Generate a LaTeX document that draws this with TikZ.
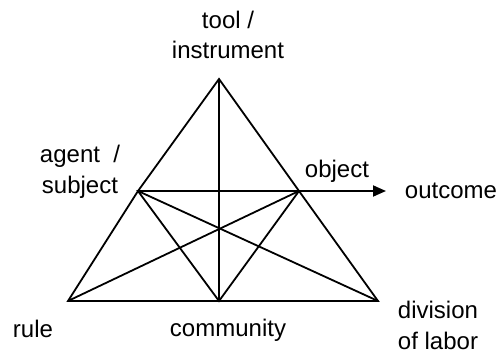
\documentclass[tikz,border=0pt]{standalone}
\usepackage{fontspec}
\setmainfont{Liberation Sans}
\usetikzlibrary{arrows.meta}

\begin{document}
\begin{tikzpicture}[x=1pt,y=-1pt,>={Triangle[length=13pt,width=11pt]},
   every node/.style={font=\fontsize{24}{30.5}\selectfont,inner sep=0pt},
   edge/.style={line width=1.8pt},
   lbl/.style={anchor=base,align=center}]
  \useasboundingbox (0,0) rectangle (501,353);
  % corners and side midpoints
  \coordinate (apex) at (219,79);
  \coordinate (lc) at (68,301);
  \coordinate (rc) at (378,301);
  \coordinate (lm) at (138,191);
  \coordinate (rm) at (299,191);
  \coordinate (bm) at (219,301);
  \coordinate (tip) at (386,191);
  \draw[edge] (apex) -- (lm) -- (lc) -- (bm) -- (rc) -- (rm) -- cycle;
  \draw[edge] (lm) -- (rm) -- (bm) -- cycle;
  \draw[edge] (apex) -- (bm);
  \draw[edge] (lm) -- (rc);
  \draw[edge] (rm) -- (lc);
  \draw[edge,->] (rm) -- (tip);
  % labels (base = last line)
  \node (tool) [lbl] at (228,59) {tool /\\instrument};
  \node (agent) [lbl] at (80,193) {agent\ \ /\\subject};
  \node (obj) [lbl] at (337,177) {object};
  \node (out) [lbl] at (451,198) {outcome};
  \node (rule) [lbl] at (33,337) {rule};
  \node (comm) [lbl] at (228,336) {community};
  \node (div) [lbl] at (438,349) {division\\of labor};
\end{tikzpicture}
\end{document}
